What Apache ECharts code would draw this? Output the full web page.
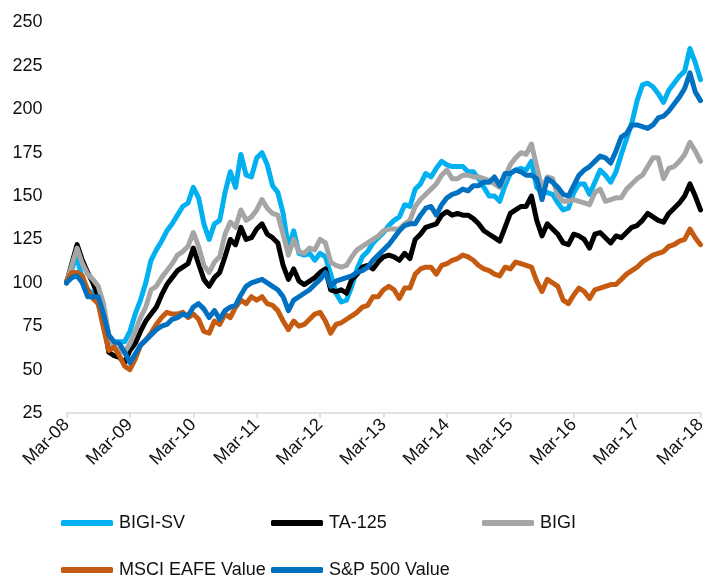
<!DOCTYPE html>
<html>
<head>
<meta charset="utf-8">
<script src="https://cdn.jsdelivr.net/npm/echarts@6/dist/echarts.min.js"></script>
<style>
html,body{margin:0;padding:0;background:#fff;}
#chart{width:709px;height:577px;}
</style>
</head>
<body>
<div id="chart"></div>
<script>
// Month labels Mar-08 .. Mar-18
const monthNames = ['Jan','Feb','Mar','Apr','May','Jun','Jul','Aug','Sep','Oct','Nov','Dec'];
const categories = [];
for (let i = 0; i <= 120; i++) {
  const m = (2 + i) % 12;
  const y = 8 + Math.floor((2 + i) / 12);
  categories.push(monthNames[m] + '-' + String(y).padStart(2, '0'));
}
const yTicks = [25, 50, 75, 100, 125, 150, 175, 200, 225, 250];

const bigiSV = [
  100,108,115,102,96,94,88,77,68,66,
  66,66,72,82,90,100,113,119,124,130,
  134,139,144,146,155,149,134,125,134,136,
  152,164,155,174,162,161,172,175,168,156,
  152,140,120,130,117,116,117,113,117,115,
  105,94,89,90,98,108,115,118,123,126,
  129,133,136,138,145,144,154,157,163,161,
  166,170,168,167,167,167,164,164,160,155,
  150,150,147,156,163,165,166,165,170,155,
  152,152,151,146,142,143,152,157,157,151,
  158,165,162,158,164,174,183,192,205,214,
  215,213,209,204,211,215,219,222,235,227,217
];
const ta125 = [
  100,111,122,113,106,100,92,79,60,58,
  57,54,61,65,72,78,82,86,93,99,
  103,107,109,111,120,111,102,98,103,106,
  115,125,122,132,125,126,131,134,128,126,
  123,110,102,108,101,99,101,103,106,108,
  96,95,96,94,102,105,109,110,108,112,
  115,116,115,113,117,114,125,128,132,133,
  134,139,141,139,140,139,139,137,134,130,
  128,126,124,132,140,142,144,144,150,136,
  127,134,131,128,123,122,128,127,125,120,
  128,129,126,123,127,126,129,132,133,136,
  140,138,136,135,140,143,146,150,157,150,142
];
const bigi = [
  100,110,120,111,105,102,98,88,70,63,
  61,60,65,72,80,86,96,98,103,107,
  111,116,118,121,129,121,110,106,112,115,
  128,135,132,142,136,138,142,148,143,140,
  139,128,116,125,118,117,120,119,125,123,
  112,110,109,110,115,119,121,123,125,127,
  130,131,131,131,134,136,144,148,151,154,
  157,162,165,160,160,162,162,161,161,160,
  159,157,155,161,168,172,175,174,180,167,
  154,161,160,150,147,147,148,147,146,145,
  152,154,147,148,149,149,154,157,160,162,
  167,172,172,160,166,167,170,174,181,176,170
];
const msciEafeValue = [
  101,106,106,104,96,91,88,74,61,63,
  58,52,50,56,64,67,71,76,80,83,
  82,82,83,80,82,79,72,71,78,76,
  82,80,86,90,88,92,90,92,88,87,
  84,78,73,78,75,76,79,82,83,78,
  71,76,77,79,81,83,86,87,92,92,
  96,98,96,91,97,97,105,108,109,109,
  105,110,111,113,114,116,115,113,110,108,
  107,105,104,109,108,112,111,110,109,101,
  95,102,100,98,90,88,93,97,95,91,
  96,97,98,99,99,102,105,107,109,112,
  114,116,117,118,121,122,124,125,131,126,122
];
const sp500Value = [
  100,103,104,100,92,92,92,82,70,66,
  65,60,54,59,64,67,70,73,75,76,
  79,80,82,81,86,88,85,80,84,79,
  84,86,87,93,98,100,101,102,100,98,
  96,92,84,90,92,94,96,99,102,106,
  98,101,102,103,104,106,107,109,113,116,
  119,122,126,130,133,134,134,139,143,144,
  139,145,149,151,152,154,153,156,156,158,
  158,161,156,163,163,165,164,162,162,160,
  148,160,158,155,151,150,156,162,165,167,
  170,173,172,169,176,184,186,191,191,190,
  189,191,195,196,199,203,207,212,221,210,205
];

const seriesNames = ['BIGI-SV', 'TA-125', 'BIGI', 'MSCI EAFE Value', 'S&P 500 Value'];
const seriesData = [bigiSV, ta125, bigi, msciEafeValue, sp500Value];
const colors = ['#00B0F0', '#000000', '#A5A5A5', '#C55A11', '#0070C0'];

const FONT = '"Liberation Sans", Arial, sans-serif';
const textColor = '#111111';
const FS = 18;

const legendPos = [
  {left: 61, top: 514},
  {left: 271, top: 514},
  {left: 482, top: 514},
  {left: 61, top: 561},
  {left: 271, top: 561}
];

const chart = echarts.init(document.getElementById('chart'), null, {renderer: 'canvas'});
chart.setOption({
  backgroundColor: '#ffffff',
  animation: false,
  color: colors,
  grid: {left: 66.5, right: 5, top: 22.5, bottom: 164, containLabel: false},
  legend: seriesNames.map((n, i) => ({
    data: [n],
    left: legendPos[i].left,
    top: legendPos[i].top,
    icon: 'roundRect',
    itemWidth: 52,
    itemHeight: 6,
    itemGap: 0,
    padding: 0,
    textStyle: {fontFamily: FONT, fontSize: FS, color: textColor, padding: [0, 0, 0, 1]}
  })),
  xAxis: {
    type: 'category',
    data: categories,
    boundaryGap: false,
    axisLine: {show: true, lineStyle: {color: '#D9D9D9', width: 1.5}},
    axisTick: {show: true, length: 5, lineStyle: {color: '#D9D9D9', width: 1.5},
      interval: (idx) => idx % 12 === 0},
    axisLabel: {
      interval: (idx) => idx % 12 === 0,
      rotate: 45,
      margin: 9,
      fontFamily: FONT, fontSize: FS, color: textColor
    },
    splitLine: {show: false}
  },
  yAxis: {
    type: 'value',
    min: yTicks[0],
    max: yTicks[yTicks.length - 1],
    interval: 25,
    axisLine: {show: false},
    axisTick: {show: false},
    splitLine: {show: false},
    axisLabel: {margin: 24, fontFamily: FONT, fontSize: FS, color: textColor}
  },
  series: seriesNames.map((n, i) => ({
    name: n,
    type: 'line',
    data: seriesData[i],
    symbol: 'none',
    smooth: false,
    lineStyle: {width: 5, color: colors[i], join: 'round', cap: 'round'},
    itemStyle: {color: colors[i]}
  }))
});
</script>
</body>
</html>
